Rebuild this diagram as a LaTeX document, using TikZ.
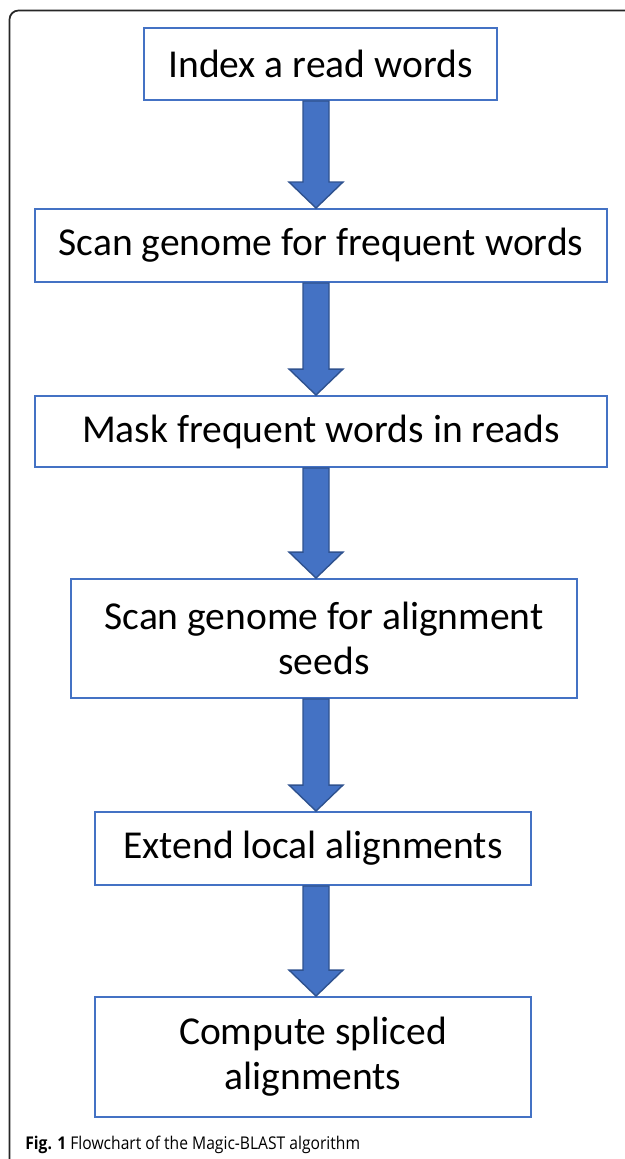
\documentclass[tikz,border=0pt]{standalone}
\usepackage{fontspec}
\setmainfont{Carlito}
\newfontfamily\captionfont[FakeStretch=0.89]{Open Sans}
\usetikzlibrary{calc, positioning}
\definecolor{BoxBlue}{HTML}{4472C4}
\definecolor{ArrowEdge}{HTML}{2F528F}

\begin{document}
\begin{tikzpicture}[x=0.02cm, y=-0.02cm,
        stepbox/.style={rectangle, draw=BoxBlue, line width=1.1pt, fill=white, align=center, text centered, font=\fontsize{22.5}{25.6}\selectfont, inner sep=0pt},
        flow/.style={fill=BoxBlue, draw=ArrowEdge, line width=0.8pt, line join=miter}]
        
        \useasboundingbox (0,0) rectangle (625,1159);
        \begin{scope}
            \clip (0,0) rectangle (625,1159);
            \draw[line width=1pt, black!85, rounded corners=0.18cm] (9.5,10.5) rectangle (660,1200);
        \end{scope}
        
        \node[stepbox, minimum width=7.06cm, minimum height=1.44cm] (idx) at (320.5,64) {Index a read words};
        \node[stepbox, minimum width=11.44cm, minimum height=1.46cm] (scan) at (321,245.5) {Scan genome for frequent words};
        \node[stepbox, minimum width=11.44cm, minimum height=1.42cm] (mask) at (321,431.5) {Mask frequent words in reads};
        \node[stepbox, minimum width=10.12cm, minimum height=2.38cm] (seed) at (324,638.5) {Scan genome for alignment\\seeds};
        \node[stepbox, minimum width=8.72cm, minimum height=1.46cm] (ext) at (313,848.5) {Extend local alignments};
        \node[stepbox, minimum width=8.72cm, minimum height=2.40cm] (spl) at (313,1057) {Compute spliced\\alignments};
        
        \coordinate (ax) at (316,0);
        
        % block arrows between the steps
        \foreach \a/\b in {idx/scan, scan/mask, mask/seed, seed/ext, ext/spl}{
            \draw[flow] let \p1=(\a.south -| ax), \p2=(\b.north -| ax) in
                (\x1-0.26cm,\y1) -- (\x1+0.26cm,\y1) -- (\x1+0.26cm,\y2+0.52cm) -- (\x1+0.54cm,\y2+0.52cm)
                -- (\x2,\y2) -- (\x1-0.54cm,\y2+0.52cm) -- (\x1-0.26cm,\y2+0.52cm) -- cycle;
        }
        
        \node[anchor=base west, inner sep=0pt, font=\captionfont\fontsize{10}{12}\selectfont] (cap) at (25,1149) {\textbf{Fig. 1} Flowchart of the Magic-BLAST algorithm};
    \end{tikzpicture}
\end{document}
